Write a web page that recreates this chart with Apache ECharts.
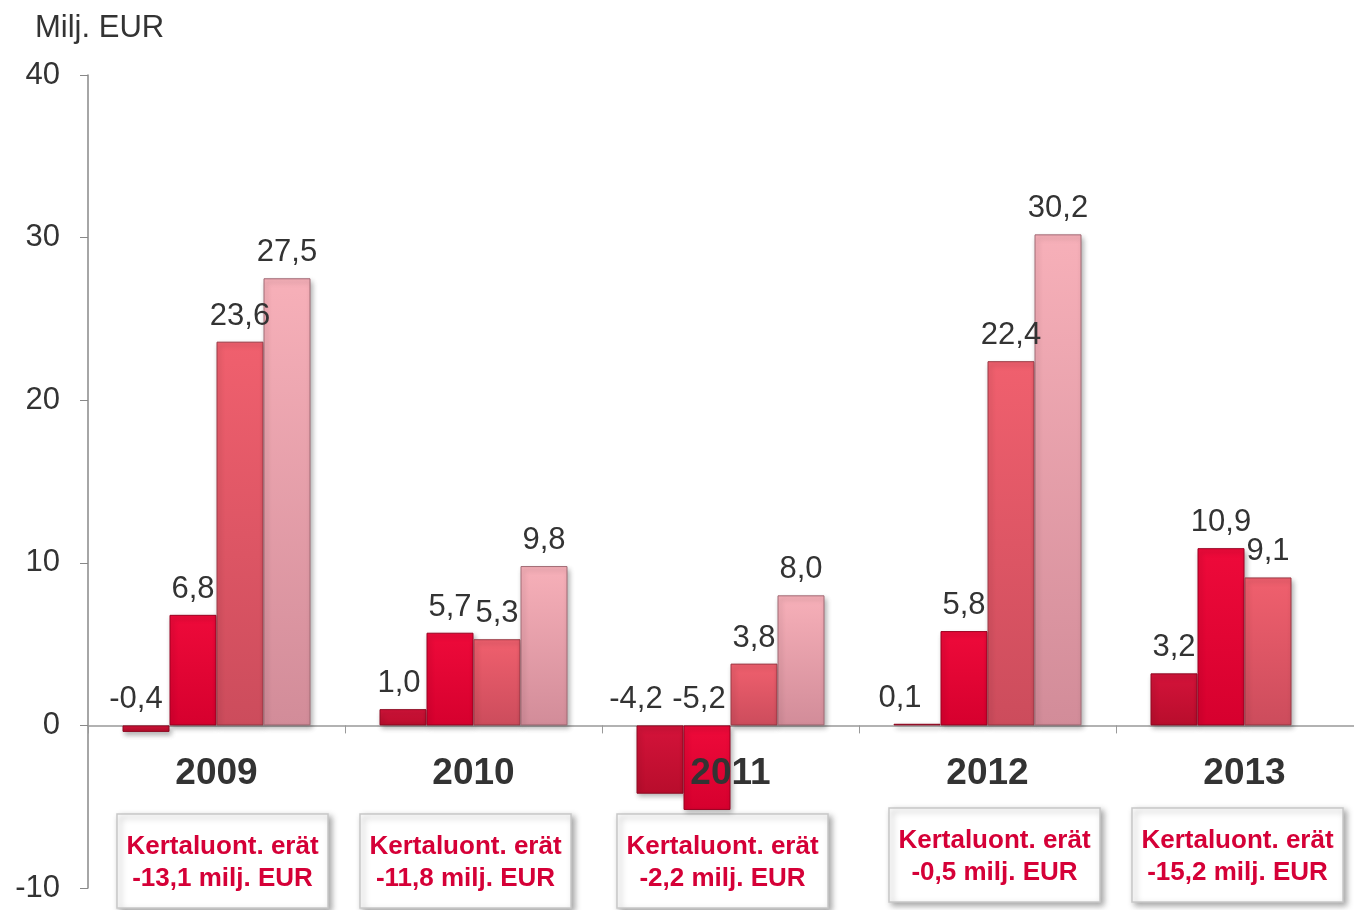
<!DOCTYPE html>
<html>
<head>
<meta charset="utf-8">
<script src="https://cdn.jsdelivr.net/npm/echarts@6/dist/echarts.min.js"></script>
<style>
html,body{margin:0;padding:0;background:#fff;}
#c{width:1354px;height:910px;}
</style>
</head>
<body>
<div id="c"></div>
<script>
const years = ['2009', '2010', '2011', '2012', '2013'];
const seriesA = [-0.4, 1.0, -4.2, 0.1, 3.2];
const seriesB = [6.8, 5.7, -5.2, 5.8, 10.9];
const seriesC = [23.6, 5.3, 3.8, 22.4, 9.1];
const seriesD = [27.5, 9.8, 8.0, 30.2, null];
const noteLine1 = ['Kertaluont. erät', 'Kertaluont. erät', 'Kertaluont. erät', 'Kertaluont. erät', 'Kertaluont. erät'];
const noteLine2 = ['-13,1 milj. EUR', '-11,8 milj. EUR', '-2,2 milj. EUR', '-0,5 milj. EUR', '-15,2 milj. EUR'];
const yTicks = { min: -10, max: 40, interval: 10 };

// layout only: horizontal nudges of value labels, note box offsets
const labelDx = [
  [-10, -4, -24, -17, 0],
  [0, 0, -8, 0, 0],
  [0, 0, 0, 0, 0],
  [0, 0, 0, 0, 0]
];
const boxDx = [6, -8, -8, 7, -7];
const boxTop = [814, 814, 814, 808, 808];

const FONT = 'Liberation Sans, Arial, sans-serif';
function grad(top, bottom) {
  return new echarts.graphic.LinearGradient(0, 0, 0, 1, [
    { offset: 0, color: top }, { offset: 1, color: bottom }
  ]);
}
function fmt(p) {
  if (p.value === null || p.value === undefined) return '';
  return p.value.toFixed(1).replace('.', ',');
}
const palette = [
  ['#d4133a', '#b80d2c', '#8e0a22'],
  ['#ee0a3a', '#d6002e', '#9a0020'],
  ['#f0606e', '#cc4c5c', '#9a3a46'],
  ['#f7b0b9', '#d28c99', '#a06a74']
];
function mk(name, values, i) {
  return {
    name: name, type: 'bar',
    data: values.map(function (v, j) {
      return { value: v, label: { offset: [labelDx[i][j], 0] } };
    }),
    barWidth: 47, barGap: '0%',
    itemStyle: {
      color: grad(palette[i][0], palette[i][1]),
      borderColor: palette[i][2], borderWidth: 1,
      shadowColor: 'rgba(0,0,0,0.3)', shadowBlur: 5, shadowOffsetX: 2, shadowOffsetY: 3
    },
    label: {
      show: true, position: 'top', distance: 10, formatter: fmt,
      fontSize: 31, color: '#333', fontFamily: FONT
    }
  };
}

const chart = echarts.init(document.getElementById('c'));
const option = {
  animation: false,
  backgroundColor: '#fff',
  title: {
    text: 'Milj. EUR', left: 30, top: 8,
    textStyle: { fontSize: 31, fontWeight: 'normal', color: '#333', fontFamily: FONT }
  },
  grid: { left: 88, right: -19, top: 75, bottom: 22, containLabel: false, outerBoundsMode: 'none' },
  xAxis: [{
    type: 'category', data: years,
    axisLine: { onZero: true, lineStyle: { color: '#999', width: 1.5 } },
    axisTick: { show: true, length: 8, lineStyle: { color: '#999' } },
    axisLabel: { show: false }
  }, {
    type: 'category', data: years, position: 'bottom', z: 10,
    axisLine: { show: false, onZero: false },
    axisTick: { show: false },
    axisLabel: { margin: -133, fontSize: 37, fontWeight: 'bold', color: '#333', fontFamily: FONT }
  }],
  yAxis: {
    type: 'value', min: yTicks.min, max: yTicks.max, interval: yTicks.interval,
    axisLine: { show: true, lineStyle: { color: '#888', width: 1.5 } },
    axisTick: { show: true, length: 8, lineStyle: { color: '#888' } },
    splitLine: { show: false },
    axisLabel: { margin: 28, fontSize: 31, color: '#333', fontFamily: FONT }
  },
  series: [
    mk('Q1', seriesA, 0),
    mk('Q2', seriesB, 1),
    mk('Q3', seriesC, 2),
    mk('Q4', seriesD, 3)
  ]
};
chart.setOption(option);

const graphics = years.map(function (y, i) {
  const cx = chart.convertToPixel({ xAxisIndex: 0 }, y) + boxDx[i];
  const w = 211, h = 94;
  return {
    type: 'group', x: cx - w / 2, y: boxTop[i], z: 20,
    children: [
      { type: 'rect', shape: { x: 0, y: 0, width: w, height: h },
        style: { fill: '#fff', stroke: '#c8c8c8', lineWidth: 1.5,
                 shadowColor: 'rgba(0,0,0,0.35)', shadowBlur: 6, shadowOffsetX: 3, shadowOffsetY: 3 } },
      { type: 'text', x: w / 2, y: 33,
        style: { text: noteLine1[i], fill: '#d50037', fontSize: 26, fontWeight: 'bold',
                 fontFamily: FONT, align: 'center', verticalAlign: 'middle' } },
      { type: 'text', x: w / 2, y: 65,
        style: { text: noteLine2[i], fill: '#d50037', fontSize: 26, fontWeight: 'bold',
                 fontFamily: FONT, align: 'center', verticalAlign: 'middle' } }
    ]
  };
});
chart.setOption({ graphic: graphics });
</script>
</body>
</html>
